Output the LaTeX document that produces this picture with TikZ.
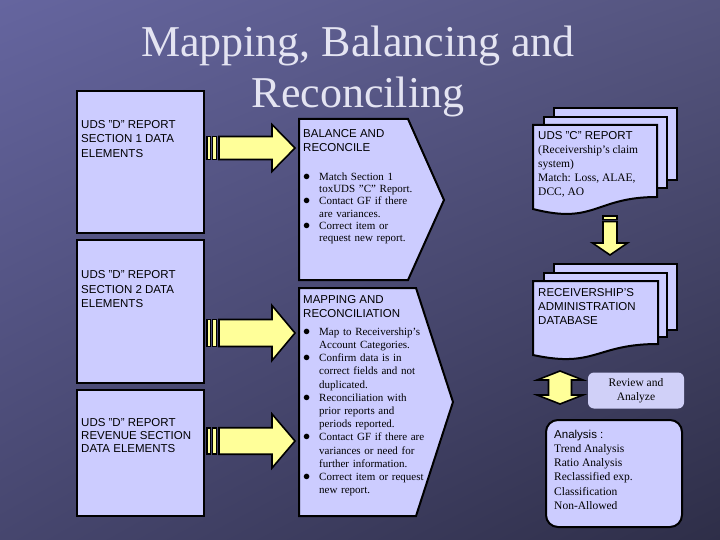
\documentclass[tikz,border=0pt]{standalone}
\usepackage{fontspec}
\setmainfont{Liberation Serif}
\setsansfont{Liberation Sans}
\usepackage{xcolor}
\usepackage{tikz}
\usetikzlibrary{positioning, calc, shadings}

\definecolor{lav}{HTML}{CCCCFF}
\definecolor{lavlight}{HTML}{D0D0F8}
\definecolor{yel}{HTML}{FFFF99}
\definecolor{titlec}{HTML}{E4E4F2}
\definecolor{bgul}{HTML}{65659F}
\definecolor{bgur}{HTML}{55557F}
\definecolor{bgll}{HTML}{46466E}
\definecolor{bglr}{HTML}{2E2E48}
\setlength{\parindent}{0pt}
\newcommand{\bitem}{\par\hangindent=16pt\hangafter=1\noindent\makebox[16pt][l]{\scalebox{1.3}{$\bullet$}}}

\begin{document}
\begin{tikzpicture}[x=1pt, y=-1pt, line join=miter]
        \tikzstyle{dbox} = [rectangle, draw=black, line width=2pt, fill=lav, inner sep=0pt]
        \tikzstyle{penta} = [draw=black, line width=2pt, fill=lav]
        \tikzstyle{docpage} = [draw=black, line width=2pt, fill=lav]
        \tikzstyle{yarrow} = [draw=black, line width=1.6pt, fill=yel]
        \tikzstyle{sanstext} = [anchor=base west, inner sep=0pt, align=left, font=\sffamily\fontsize{11.5}{14.5}\selectfont]
        \tikzstyle{sertext} = [anchor=base west, inner sep=0pt, align=left, font=\rmfamily\fontsize{11.5}{14}\selectfont]
        \tikzstyle{bullets} = [anchor=base west, inner sep=0pt, text width=140pt]
        \tikzset{pics/rarrow/.style={code={
            \draw[yarrow] (0,-11.5) rectangle (3.5,11.5);
            \draw[yarrow] (5.5,-11.5) rectangle (9.5,11.5);
            \draw[yarrow] (12,-11.5) -- (65,-11.5) -- (65,-23.5) -- (88,0) -- (65,23.5) -- (65,11.5) -- (12,11.5) -- cycle;
        }}}

        % background
        \useasboundingbox (0,0) rectangle (720,540);
        \shade[upper left=bgul, upper right=bgur, lower left=bgll, lower right=bglr] (0,0) rectangle (720,540);

        % base of a multi-line node = baseline of its last line
        \node[font=\rmfamily\fontsize{44}{51}\selectfont, text=titlec, align=center, anchor=base] (title) at (358,108) {Mapping, Balancing and\\Reconciling};

        % left column
        \node[dbox, minimum width=127pt, minimum height=142pt] (sec1) at (140.5,162) {};
        \node[dbox, minimum width=127pt, minimum height=143pt] (sec2) at (140.5,311.5) {};
        \node[dbox, minimum width=127pt, minimum height=126pt] (rev) at (140.5,453) {};
        \node[sanstext] (sec1txt) at ($(sec1.north west)+(5,67.5)$) {UDS "D" REPORT\\SECTION 1 DATA\\ELEMENTS};
        \node[sanstext] (sec2txt) at ($(sec2.north west)+(5,68.5)$) {UDS "D" REPORT\\SECTION 2 DATA\\ELEMENTS};
        \node[sanstext, font=\sffamily\fontsize{11.5}{13}\selectfont] (revtxt) at ($(rev.north west)+(5,63.5)$) {UDS "D" REPORT\\REVENUE SECTION\\DATA ELEMENTS};

        \pic at (207,148) {rarrow};
        \pic[yscale=1.17] at (207,333) {rarrow};
        \pic[yscale=1.15] at (207,441) {rarrow};

        % middle column
        \draw[penta] (299,119) coordinate (bal) -- (408,119) -- (444,200) -- (408,280) -- (299,280) -- cycle;
        \draw[penta] (299,288) coordinate (map) -- (416,288) -- (453,402) -- (416,516) -- (299,516) -- cycle;
        \node[sanstext, font=\sffamily\fontsize{11.5}{14}\selectfont] (balhead) at (303,151.5) {BALANCE AND\\RECONCILE};
        \node[bullets, font=\rmfamily\fontsize{11}{12.3}\selectfont] (ballist) at (303,168) {\raggedright
            \bitem Match Section 1\newline toxUDS "C" Report.
            \bitem Contact GF if there\newline are variances.
            \bitem Correct item or\newline request new report.\par};
        \node[sanstext, font=\sffamily\fontsize{11.5}{14}\selectfont] (maphead) at (303,317.5) {MAPPING AND\\RECONCILIATION};
        \node[bullets, font=\rmfamily\fontsize{11}{13.2}\selectfont] (maplist) at (303,322) {\raggedright
            \bitem Map to Receivership's\newline Account Categories.
            \bitem Confirm data is in\newline correct fields and not\newline duplicated.
            \bitem Reconciliation with\newline prior reports and\newline periods reported.
            \bitem Contact GF if there are\newline variances or need for\newline further information.
            \bitem Correct item or request\newline new report.\par};

        % right column
        \draw[docpage] (554,108) rectangle (677,180);
        \draw[docpage] (544,117) rectangle (667,188);
        \draw[docpage] (533,125) coordinate (claim) -- (657,125) -- (657,197) .. controls (595,197) and (595,225) .. (533,209) -- cycle;
        \node[sertext] (claimtxt) at (538,196) {\textsf{UDS "C" REPORT}\\(Receivership's claim\\system)\\Match: Loss, ALAE,\\DCC, AO};

        \draw[yarrow] (603,216) rectangle (617,219.5);
        \draw[yarrow] (603,221.5) -- (617,221.5) -- (617,243) -- (627.5,243) -- (610,255) -- (592.5,243) -- (603,243) -- cycle;

        \draw[docpage] (554,264) rectangle (677,330);
        \draw[docpage] (544,273) rectangle (667,337);
        \draw[docpage] (533,281) coordinate (admin) -- (658,281) -- (658,344) .. controls (595.5,344) and (595.5,368.5) .. (533,355) -- cycle;
        \node[sanstext, font=\sffamily\fontsize{11.5}{14}\selectfont] (admintxt) at (538,324) {RECEIVERSHIP'S\\ADMINISTRATION\\DATABASE};

        \draw[yarrow] (560,371) -- (583,380) -- (571.5,380) -- (571.5,395) -- (583,395) -- (560,404) -- (537,395) -- (548.5,395) -- (548.5,380) -- (537,380) -- cycle;

        \node[rectangle, rounded corners=6pt, fill=lavlight, minimum width=96pt, minimum height=36pt, align=center, font=\rmfamily\fontsize{11.5}{14}\selectfont] (review) at (636,390.5) {Review and\\Analyze};

        \node[dbox, rounded corners=12pt, minimum width=136pt, minimum height=107pt] (analysis) at (614,473.5) {};
        \node[sertext, font=\rmfamily\fontsize{11.5}{14.3}\selectfont] (analysistxt) at (554,509.5) {\textsf{Analysis :}\\Trend Analysis\\Ratio Analysis\\Reclassified exp.\\Classification\\Non-Allowed};
\end{tikzpicture}
\end{document}
